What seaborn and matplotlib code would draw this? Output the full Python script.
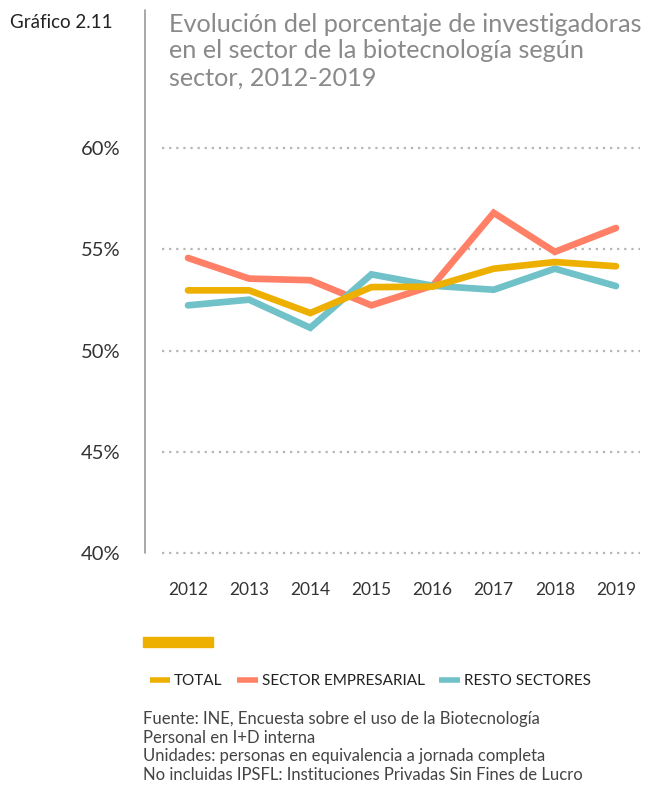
import matplotlib
matplotlib.use("Agg")
import matplotlib.pyplot as plt
import numpy as np
import pandas as pd
import seaborn as sns
from matplotlib.lines import Line2D
from matplotlib.patches import Rectangle

years = ["2012", "2013", "2014", "2015", "2016", "2017", "2018", "2019"]
total = [52.97, 52.97, 51.85, 53.13, 53.15, 54.04, 54.37, 54.16]
empresarial = [54.57, 53.55, 53.47, 52.23, 53.2, 56.8, 54.87, 56.05]
resto = [52.23, 52.51, 51.12, 53.76, 53.2, 53.0, 54.04, 53.18]
series_names = ["TOTAL", "SECTOR EMPRESARIAL", "RESTO SECTORES"]
colors = ["#EEB000", "#FF8066", "#70C1C8"]
yticks = [40, 45, 50, 55, 60]

sns.set_theme(style="white")
plt.rcParams["font.family"] = ["Lato", "DejaVu Sans"]

df = pd.DataFrame({
    "x": list(range(len(years))) * 3,
    "valor": total + empresarial + resto,
    "serie": [s for s in series_names for _ in years],
})

W, H = 654, 787
fig = plt.figure(figsize=(W / 100, H / 100), dpi=100)


def fx(px):
    return px / W


def fy(py):
    return 1 - py / H


# axes: x from 162 to 640 px, y from 148 (60%) to 553 (40%)
ax = fig.add_axes([fx(162), fy(553), fx(640) - fx(162), fy(148) - fy(553)])
sns.lineplot(data=df, x="x", y="valor", hue="serie", hue_order=series_names,
             palette=colors, linewidth=4.8, legend=False, ax=ax,
             solid_capstyle="round", solid_joinstyle="miter")
for ln in ax.get_lines():
    if ln.get_color() == colors[0]:
        ln.set_zorder(5)

# x: 0 -> 188 px, 7 -> 616 px
px_per = (616 - 188) / 7
ax.set_xlim(-(188 - 162) / px_per, 7 + (640 - 616) / px_per)
ax.set_ylim(40, 60)
ax.set_yticks(yticks)
ax.set_yticklabels([f"{v}%" for v in yticks], fontsize=14.5, color="#333333")
ax.set_xticks(range(len(years)))
ax.set_xticklabels(years, fontsize=12.5, color="#333333")
ax.tick_params(axis="y", length=0, pad=30)
ax.tick_params(axis="x", length=0, pad=21)
ax.set_xlabel("")
ax.set_ylabel("")
for s in ax.spines.values():
    s.set_visible(False)
for v in yticks:
    ax.axhline(v, color="#b5b5b5", linestyle=(0, (1, 2.2)), linewidth=1.6, zorder=0, clip_on=False)

# vertical separator line
fig.add_artist(Line2D([fx(145), fx(145)], [fy(10), fy(553)], color="#9a9a9a", linewidth=1.2))

fig.text(fx(10), fy(22), "Gráfico 2.11", fontsize=13.5, color="#222222", va="center", ha="left")
fig.text(fx(169), fy(51), "Evolución del porcentaje de investigadoras\nen el sector de la biotecnología según\nsector, 2012-2019",
         fontsize=18.2, color="#8a8a8a", va="center", ha="left", linespacing=1.2)

# decorative bar
fig.add_artist(Rectangle((fx(143), fy(647)), fx(213) - fx(143), fy(637) - fy(647),
                         color=colors[0], transform=fig.transFigure))

handles = [Line2D([0], [0], color=c, linewidth=4, solid_capstyle="butt") for c in colors]
fig.legend(handles, series_names, loc="center left", bbox_to_anchor=(fx(136), fy(681)),
           ncol=3, frameon=False, fontsize=11, handlelength=1.35, handletextpad=0.25,
           columnspacing=0.95, labelcolor="#222222")

foot = ["Fuente: INE, Encuesta sobre el uso de la Biotecnología",
        "Personal en I+D interna",
        "Unidades: personas en equivalencia a jornada completa",
        "No incluidas IPSFL: Instituciones Privadas Sin Fines de Lucro"]
for i, t in enumerate(foot):
    fig.text(fx(143), fy(719 + i * 18.7), t, fontsize=12, color="#444444", va="center", ha="left")

fig.savefig("out.png", dpi=100)
